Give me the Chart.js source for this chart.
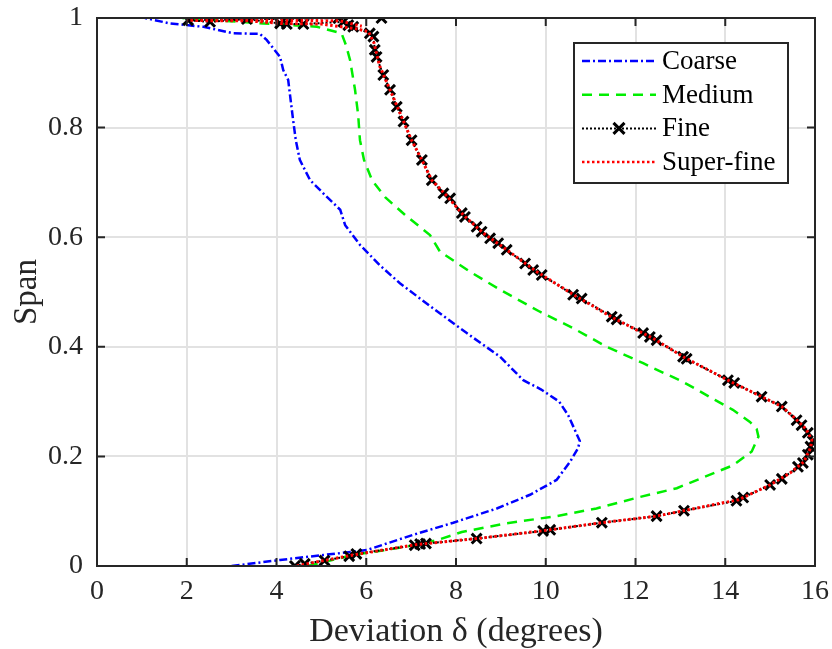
<!DOCTYPE html>
<html lang="en">
<head>
  <meta charset="UTF-8">
  <title>Deviation vs Span</title>
  <script src="https://cdn.jsdelivr.net/npm/chart.js"></script>
  <style>
    html, body { margin: 0; padding: 0; background: #fff; }
    #wrap { width: 832px; height: 649px; }
  </style>
</head>
<body>
  <div id="wrap"><canvas id="devChart" width="832" height="649"></canvas></div>

  <script>
    // Coarse mesh (blue dash-dot)
    const coarseDev  = [3.0, 4.08, 5.04, 6.01, 7.05, 7.94, 8.91, 9.65, 10.24, 10.54, 10.72, 10.76, 10.65, 10.5, 10.3, 9.9, 9.5, 8.98, 8.24, 7.49, 6.75, 6.3, 5.86, 5.53, 5.42, 5.08, 4.75, 4.52, 4.43, 4.37, 4.26, 4.15, 4.08, 3.78, 3.63, 3.04, 2.37, 1.63, 1.07];
    const coarseSpan = [0.0, 0.011, 0.02, 0.029, 0.057, 0.079, 0.105, 0.13, 0.157, 0.19, 0.215, 0.228, 0.248, 0.275, 0.3, 0.322, 0.339, 0.382, 0.425, 0.47, 0.516, 0.549, 0.586, 0.622, 0.65, 0.677, 0.704, 0.741, 0.777, 0.814, 0.887, 0.905, 0.929, 0.96, 0.971, 0.972, 0.984, 0.99, 1.0];

    // Medium mesh (green dashed)
    const mediumDev  = [4.7, 5.1, 5.7, 6.5, 7.2, 7.57, 8.13, 9.13, 10.24, 11.13, 12.1, 12.92, 13.73, 14.18, 14.59, 14.74, 14.7, 14.55, 14.17, 13.77, 13.39, 12.99, 12.61, 12.17, 11.36, 10.61, 9.87, 9.05, 8.31, 7.64, 7.42, 6.86, 6.42, 6.13, 5.95, 5.86, 5.82, 5.75, 5.64, 5.55, 5.45, 4.9, 3.7, 1.9];
    const mediumSpan = [0.0, 0.008, 0.02, 0.03, 0.04, 0.047, 0.062, 0.078, 0.091, 0.105, 0.126, 0.142, 0.169, 0.184, 0.209, 0.236, 0.25, 0.263, 0.285, 0.303, 0.321, 0.339, 0.353, 0.37, 0.4, 0.434, 0.464, 0.501, 0.537, 0.574, 0.604, 0.641, 0.673, 0.704, 0.741, 0.777, 0.823, 0.869, 0.923, 0.95, 0.972, 0.984, 0.99, 1.0];

    // Fine mesh (black dotted, x markers)
    const fineDev  = [4.41, 4.63, 5.07, 5.62, 5.78, 7.08, 7.2, 7.33, 8.46, 9.94, 10.1, 11.25, 12.47, 13.08, 14.25, 14.4, 15.0, 15.26, 15.62, 15.73, 15.84, 15.9, 15.95, 15.84, 15.7, 15.59, 15.26, 14.81, 14.2, 14.06, 13.14, 13.06, 12.47, 12.32, 12.17, 11.58, 11.47, 10.8, 10.61, 9.91, 9.72, 9.54, 9.13, 8.94, 8.76, 8.57, 8.46, 8.2, 8.13, 7.87, 7.72, 7.46, 7.24, 7.01, 6.83, 6.68, 6.53, 6.38, 6.23, 6.19, 6.16, 6.08, 5.71, 5.6, 5.49, 4.6, 4.23, 4.08, 3.34, 2.52, 2.03, 5.38, 6.34];
    const fineSpan = [0.0, 0.004, 0.01, 0.018, 0.022, 0.038, 0.04, 0.041, 0.05, 0.064, 0.066, 0.079, 0.091, 0.101, 0.119, 0.125, 0.148, 0.159, 0.181, 0.188, 0.203, 0.218, 0.228, 0.243, 0.257, 0.266, 0.291, 0.309, 0.334, 0.339, 0.378, 0.382, 0.412, 0.418, 0.425, 0.45, 0.455, 0.488, 0.495, 0.531, 0.54, 0.552, 0.577, 0.589, 0.598, 0.61, 0.619, 0.637, 0.644, 0.671, 0.68, 0.704, 0.741, 0.777, 0.811, 0.838, 0.869, 0.896, 0.929, 0.942, 0.966, 0.972, 0.984, 0.987, 0.993, 0.989, 0.989, 0.99, 0.998, 0.993, 0.996, 1.0, 1.0];

    // Super-fine mesh (red dotted)
    const superDev  = [4.45, 5.0, 5.7, 7.1, 8.46, 10.0, 11.25, 12.47, 13.08, 14.3, 15.0, 15.45, 15.75, 15.9, 15.93, 15.8, 15.55, 15.26, 14.81, 14.13, 13.1, 12.4, 11.52, 10.7, 9.8, 9.13, 8.6, 8.17, 7.8, 7.46, 7.24, 7.01, 6.76, 6.53, 6.3, 6.17, 6.05, 5.8, 5.0, 4.1, 3.34, 2.52, 2.0, 3.3, 5.4, 5.9];
    const superSpan = [0.0, 0.009, 0.02, 0.039, 0.05, 0.065, 0.079, 0.091, 0.101, 0.121, 0.148, 0.17, 0.19, 0.215, 0.23, 0.25, 0.27, 0.291, 0.309, 0.336, 0.38, 0.415, 0.452, 0.491, 0.537, 0.577, 0.608, 0.64, 0.675, 0.704, 0.741, 0.777, 0.825, 0.869, 0.912, 0.955, 0.975, 0.98, 0.989, 0.99, 0.995, 0.995, 0.996, 0.996, 0.995, 0.985];

    const xTicks = [0, 2, 4, 6, 8, 10, 12, 14, 16];
    const yTicks = [0, 0.2, 0.4, 0.6, 0.8, 1];

    const SERIF = '"Liberation Serif", "DejaVu Serif", serif';
    const AXIS = '#262626';

    function pts(xs, ys) {
      return xs.map((x, i) => ({ x: x, y: ys[i] }));
    }

    const legendItems = [
      { label: 'Coarse', color: '#0000ff', dash: [8, 3, 2, 3], width: 2.5, marker: false },
      { label: 'Medium', color: '#00ee00', dash: [10, 7], width: 2.5, marker: false },
      { label: 'Fine', color: '#000000', dash: [2, 2], width: 2, marker: true },
      { label: 'Super-fine', color: '#ff0000', dash: [2.5, 2.5], width: 2.5, marker: false }
    ];

    // box, inward ticks and the legend (MATLAB style)
    const boxPlugin = {
      id: 'boxPlugin',
      afterDraw(chart) {
        const ctx = chart.ctx;
        const a = chart.chartArea;
        const xs = chart.scales.x, ys = chart.scales.y;
        ctx.save();
        ctx.strokeStyle = AXIS;
        ctx.lineWidth = 2;
        ctx.setLineDash([]);
        ctx.strokeRect(a.left, a.top, a.right - a.left, a.bottom - a.top);
        const tl = 8;
        ctx.beginPath();
        xTicks.forEach(v => {
          const px = xs.getPixelForValue(v);
          ctx.moveTo(px, a.bottom); ctx.lineTo(px, a.bottom - tl);
          ctx.moveTo(px, a.top); ctx.lineTo(px, a.top + tl);
        });
        yTicks.forEach(v => {
          const py = ys.getPixelForValue(v);
          ctx.moveTo(a.left, py); ctx.lineTo(a.left + tl, py);
          ctx.moveTo(a.right, py); ctx.lineTo(a.right - tl, py);
        });
        ctx.stroke();

        // legend
        const lx = 574, ly = 43, lw = 214, lh = 140;
        ctx.fillStyle = '#fff';
        ctx.fillRect(lx, ly, lw, lh);
        ctx.lineWidth = 2;
        ctx.strokeStyle = AXIS;
        ctx.strokeRect(lx, ly, lw, lh);
        ctx.font = '27px ' + SERIF;
        ctx.textBaseline = 'middle';
        ctx.textAlign = 'left';
        legendItems.forEach((it, i) => {
          const cy = ly + 18 + i * 33.7;
          ctx.beginPath();
          ctx.strokeStyle = it.color;
          ctx.lineWidth = it.width;
          ctx.setLineDash(it.dash);
          ctx.moveTo(lx + 8, cy); ctx.lineTo(lx + 82, cy);
          ctx.stroke();
          ctx.setLineDash([]);
          if (it.marker) {
            const mx = lx + 45, r = 5.5;
            ctx.beginPath();
            ctx.lineWidth = 3;
            ctx.moveTo(mx - r, cy - r); ctx.lineTo(mx + r, cy + r);
            ctx.moveTo(mx - r, cy + r); ctx.lineTo(mx + r, cy - r);
            ctx.stroke();
          }
          ctx.fillStyle = '#000';
          ctx.fillText(it.label, lx + 88, cy + 1);
        });
        ctx.restore();
      }
    };

    const ctx = document.getElementById('devChart').getContext('2d');
    new Chart(ctx, {
      type: 'scatter',
      data: {
        datasets: [
          {
            label: 'Coarse', data: pts(coarseDev, coarseSpan), showLine: true,
            borderColor: '#0000ff', borderWidth: 2.5, borderDash: [8, 3, 2, 3],
            pointRadius: 0, fill: false, order: 3
          },
          {
            label: 'Medium', data: pts(mediumDev, mediumSpan), showLine: true,
            borderColor: '#00ee00', borderWidth: 2.5, borderDash: [10, 7],
            pointRadius: 0, fill: false, order: 2
          },
          {
            label: 'Fine', data: pts(fineDev, fineSpan), showLine: true,
            borderColor: '#000000', borderWidth: 2, borderDash: [2, 2],
            pointStyle: 'crossRot', pointRadius: 7, pointBorderWidth: 3,
            pointBorderColor: '#000000', pointBackgroundColor: '#000000',
            fill: false, order: 1
          },
          {
            label: 'Super-fine', data: pts(superDev, superSpan), showLine: true,
            borderColor: '#ff0000', borderWidth: 3, borderDash: [2.5, 2.5],
            pointRadius: 0, fill: false, order: 0
          }
        ]
      },
      options: {
        responsive: false,
        animation: false,
        layout: { padding: { top: 18, right: 17, left: 0, bottom: 0 } },
        plugins: {
          legend: { display: false },
          tooltip: { enabled: false }
        },
        scales: {
          x: {
            type: 'linear', min: 0, max: 16,
            afterFit(scale) {
              scale.height = 83;
              scale.paddingLeft = 0; scale.paddingRight = 0;
            },
            afterBuildTicks(scale) { scale.ticks = xTicks.map(v => ({ value: v })); },
            grid: { color: '#e2e2e2', lineWidth: 2, drawTicks: false },
            border: { display: false },
            ticks: { color: '#262626', padding: 9, font: { family: SERIF, size: 28 } },
            title: {
              display: true, text: 'Deviation δ (degrees)', color: '#262626',
              font: { family: SERIF, size: 34, lineHeight: 1.0 }, padding: { top: 0, bottom: 0 }
            }
          },
          y: {
            type: 'linear', min: 0, max: 1,
            afterFit(scale) {
              scale.width = 97;
              scale.paddingTop = 0; scale.paddingBottom = 0;
            },
            afterBuildTicks(scale) { scale.ticks = yTicks.map(v => ({ value: v })); },
            grid: { color: '#e2e2e2', lineWidth: 2, drawTicks: false },
            border: { display: false },
            ticks: {
              color: '#262626', padding: 14, font: { family: SERIF, size: 28 },
              callback: v => String(v)
            },
            title: {
              display: true, text: 'Span', color: '#262626',
              font: { family: SERIF, size: 33 }, padding: { top: 8, bottom: 0 }
            }
          }
        }
      },
      plugins: [boxPlugin]
    });
  </script>
</body>
</html>
